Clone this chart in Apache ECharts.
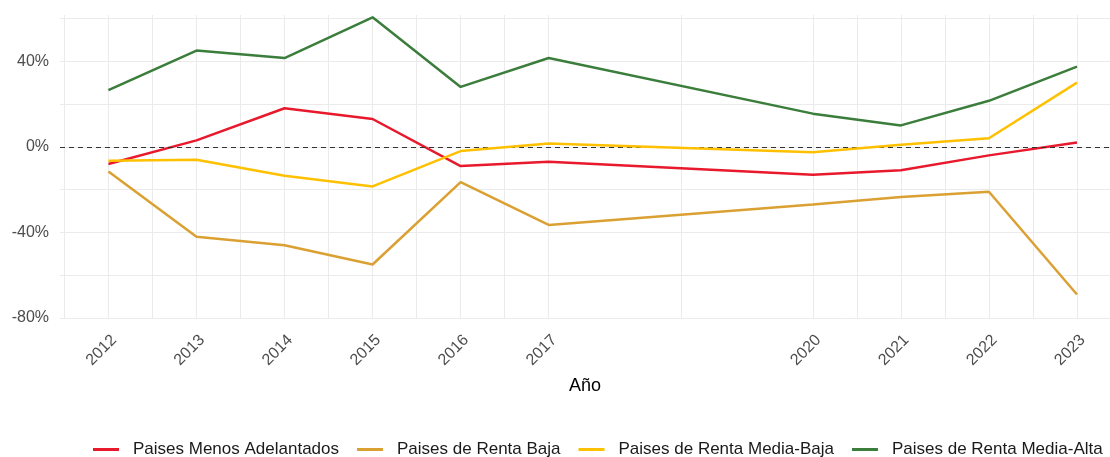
<!DOCTYPE html>
<html>
<head>
<meta charset="utf-8">
<script src="https://cdn.jsdelivr.net/npm/echarts@6/dist/echarts.min.js"></script>
<style>
  html, body { margin: 0; padding: 0; background: #fff; }
  #chart { width: 1110px; height: 457px; }
</style>
</head>
<body>
<div id="chart"></div>
<script>
  // años con dato (2018 y 2019 no aparecen)
  const years = [2012, 2013, 2014, 2015, 2016, 2017, 2020, 2021, 2022, 2023];
  const seriesNames = ['Paises Menos Adelantados', 'Paises de Renta Baja', 'Paises de Renta Media-Baja', 'Paises de Renta Media-Alta'];
  const seriesColors = ['#E8192C', '#DBA032', '#FFC000', '#3B7D3B'];

  // variación en %
  const menosAdelantados = [-8, 3, 18, 13, -9, -7, -13, -11, -4, 2];
  const rentaBaja = [-11.5, -42, -46, -55, -16.5, -36.5, -27, -23.5, -21, -69];
  const rentaMediaBaja = [-6.5, -6, -13.5, -18.5, -2, 1.5, -2.5, 1, 4, 30];
  const rentaMediaAlta = [26.5, 45, 41.5, 60.5, 28, 41.5, 15.5, 10, 21.5, 37.5];

  const yTickLabels = [-80, -40, 0, 40];
  const yGridValues = [-80, -60, -40, -20, 0, 20, 40, 60];

  const values = [menosAdelantados, rentaBaja, rentaMediaBaja, rentaMediaAlta];

  // líneas de rejilla: cada año y los puntos medios entre años
  let gridYears = [years[0] - 0.5];
  years.forEach((y, i) => {
    if (i > 0) gridYears.push((years[i - 1] + y) / 2);
    gridYears.push(y);
  });

  const chart = echarts.init(document.getElementById('chart'));

  const series = seriesNames.map((name, i) => {
    const s = {
      name: name,
      type: 'line',
      data: years.map((y, j) => [y, values[i][j]]),
      showSymbol: false,
      symbol: 'none',
      lineStyle: { width: 2.5, color: seriesColors[i] },
      itemStyle: { color: seriesColors[i] },
      z: 3 + i
    };
    if (i === 0) {
      // línea de referencia en 0
      s.markLine = {
        silent: true,
        symbol: 'none',
        label: { show: false },
        lineStyle: { type: [5, 4], color: '#333', width: 1.2 },
        data: [{ yAxis: 0 }]
      };
    }
    return s;
  });

  const option = {
    animation: false,
    textStyle: { fontFamily: 'Liberation Sans, Arial, sans-serif' },
    grid: { left: 60, right: 0, top: 15, bottom: 139 },
    xAxis: {
      type: 'value',
      min: 2011.45,
      max: 2023.375,
      name: 'Año',
      nameLocation: 'middle',
      nameGap: 59,
      nameMoveOverlap: false,
      nameTextStyle: { fontSize: 18, color: '#000' },
      axisLine: { show: false },
      axisTick: { show: false, customValues: gridYears },
      axisLabel: {
        customValues: years,
        rotate: 45,
        fontSize: 16,
        color: '#4D4D4D',
        margin: 14,
        align: 'right',
        verticalAlign: 'top',
        formatter: v => String(v)
      },
      splitLine: { show: true, lineStyle: { color: '#EBEBEB', width: 1 } }
    },
    yAxis: {
      type: 'value',
      min: -80,
      max: 61.6,
      axisLine: { show: false },
      axisTick: { show: false, customValues: yGridValues },
      axisLabel: {
        customValues: yTickLabels,
        fontSize: 16,
        color: '#4D4D4D',
        margin: 11,
        formatter: v => v + '%'
      },
      splitLine: { show: true, lineStyle: { color: '#EBEBEB', width: 1 } }
    },
    legend: {
      data: seriesNames,
      left: 88,
      top: 436,
      icon: 'rect',
      itemWidth: 26,
      itemHeight: 3,
      itemGap: 18,
      textStyle: { fontSize: 17, color: '#1A1A1A', padding: [0, 0, 0, 9] }
    },
    series: series
  };

  chart.setOption(option);
</script>
</body>
</html>
